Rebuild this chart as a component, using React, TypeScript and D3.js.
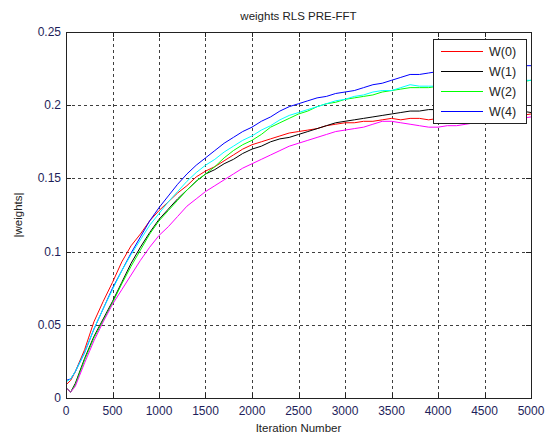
import React from "react";
import * as d3 from "d3";

const ITER: number[] = [0, 50].concat(d3.range(100, 5001, 100));

const W0 = [0.009, 0.012, 0.018, 0.033, 0.052, 0.066, 0.079, 0.093, 0.104, 0.112, 0.121, 0.128, 0.134, 0.140, 0.145, 0.151, 0.155, 0.158, 0.162, 0.166, 0.170, 0.173, 0.175, 0.177, 0.179, 0.181, 0.182, 0.183, 0.184, 0.186, 0.187, 0.188, 0.188, 0.189, 0.189, 0.190, 0.191, 0.190, 0.191, 0.191, 0.190, 0.191, 0.191, 0.192, 0.191, 0.192, 0.192, 0.193, 0.192, 0.193, 0.193, 0.194];
const W1 = [0.007, 0.004, 0.010, 0.027, 0.042, 0.054, 0.066, 0.079, 0.092, 0.103, 0.113, 0.122, 0.129, 0.136, 0.142, 0.148, 0.153, 0.156, 0.160, 0.163, 0.167, 0.170, 0.172, 0.175, 0.177, 0.178, 0.180, 0.182, 0.184, 0.186, 0.188, 0.189, 0.190, 0.191, 0.192, 0.193, 0.194, 0.195, 0.196, 0.196, 0.197, 0.197, 0.197, 0.196, 0.196, 0.196, 0.195, 0.195, 0.195, 0.195, 0.196, 0.195];
const W2 = [0.007, 0.004, 0.009, 0.026, 0.041, 0.053, 0.065, 0.078, 0.090, 0.101, 0.112, 0.121, 0.128, 0.135, 0.142, 0.148, 0.153, 0.158, 0.164, 0.169, 0.173, 0.176, 0.180, 0.185, 0.188, 0.191, 0.194, 0.196, 0.199, 0.201, 0.202, 0.204, 0.205, 0.206, 0.207, 0.209, 0.210, 0.211, 0.212, 0.212, 0.212, 0.213, 0.213, 0.213, 0.214, 0.214, 0.215, 0.215, 0.216, 0.216, 0.216, 0.217];
const W3 = [0.011, 0.013, 0.018, 0.031, 0.047, 0.061, 0.074, 0.087, 0.098, 0.108, 0.118, 0.126, 0.134, 0.141, 0.148, 0.154, 0.159, 0.163, 0.168, 0.172, 0.176, 0.179, 0.183, 0.186, 0.190, 0.193, 0.195, 0.197, 0.199, 0.201, 0.203, 0.204, 0.206, 0.207, 0.209, 0.210, 0.210, 0.212, 0.214, 0.213, 0.213, 0.213, 0.214, 0.214, 0.215, 0.215, 0.215, 0.216, 0.216, 0.216, 0.217, 0.217];
const W4 = [0.012, 0.013, 0.018, 0.031, 0.047, 0.061, 0.075, 0.087, 0.099, 0.110, 0.121, 0.130, 0.138, 0.146, 0.153, 0.159, 0.164, 0.169, 0.174, 0.178, 0.182, 0.185, 0.189, 0.192, 0.196, 0.199, 0.201, 0.203, 0.205, 0.206, 0.208, 0.209, 0.210, 0.212, 0.214, 0.215, 0.217, 0.219, 0.221, 0.221, 0.222, 0.223, 0.223, 0.224, 0.224, 0.225, 0.225, 0.225, 0.226, 0.226, 0.227, 0.227];
const W5 = [0.007, 0.004, 0.008, 0.024, 0.039, 0.052, 0.064, 0.074, 0.084, 0.094, 0.103, 0.111, 0.117, 0.124, 0.131, 0.136, 0.141, 0.145, 0.149, 0.153, 0.157, 0.160, 0.163, 0.166, 0.169, 0.172, 0.174, 0.176, 0.178, 0.180, 0.182, 0.183, 0.184, 0.185, 0.187, 0.189, 0.189, 0.188, 0.187, 0.186, 0.185, 0.185, 0.186, 0.186, 0.187, 0.188, 0.189, 0.190, 0.190, 0.191, 0.191, 0.192];

const SERIES = [
  { values: W0, color: "#ff0000" },
  { values: W1, color: "#000000" },
  { values: W2, color: "#00ff00" },
  { values: W4, color: "#0000ff" },
  { values: W3, color: "#00ffff" },
  { values: W5, color: "#ff00ff" },
];

const LEGEND_LABELS = ["W(0)", "W(1)", "W(2)", "W(4)"];
const LEGEND_COLORS = ["#ff0000", "#000000", "#00ff00", "#0000ff"];

const X_TICKS = [0, 500, 1000, 1500, 2000, 2500, 3000, 3500, 4000, 4500, 5000];
const Y_TICKS = [0, 0.05, 0.1, 0.15, 0.2, 0.25];
const Y_TICK_LABELS = ["0", "0.05", "0.1", "0.15", "0.2", "0.25"];

const TITLE = "weights RLS PRE-FFT";
const X_LABEL = "Iteration Number";
const Y_LABEL = "|weights|";

export default function App() {
  const W = 547, H = 439;
  const left = 66, right = 531, top = 32, bottom = 398;
  const x = d3.scaleLinear().domain([0, 5000]).range([left, right]);
  const y = d3.scaleLinear().domain([0, 0.25]).range([bottom, top]);
  const line = (vals: number[]) =>
    d3.line<number>().x((_, i) => x(ITER[i])).y((d) => y(d))(vals) || "";
  const font = "Arial, 'Liberation Sans', Helvetica, sans-serif";
  const tickColor = "#1e1e5a";
  const lg = { x: 433, y: 39, w: 93, h: 84 };

  return (
    <svg width={W} height={H} style={{ position: "absolute", left: 0, top: 0, background: "#fff" }} fontFamily={font}>
      <rect x={0} y={0} width={W} height={H} fill="#fff" />
      <rect x={left} y={top} width={right - left} height={bottom - top} fill="#fff" />
      {/* grid */}
      {X_TICKS.slice(1, -1).map((t) => (
        <line key={"gx" + t} x1={Math.round(x(t)) + 0.5} x2={Math.round(x(t)) + 0.5} y1={top} y2={bottom} stroke="#000" strokeWidth={1} strokeDasharray="3,3" opacity={0.75} />
      ))}
      {Y_TICKS.slice(1, -1).map((t) => (
        <line key={"gy" + t} y1={Math.round(y(t)) + 0.5} y2={Math.round(y(t)) + 0.5} x1={left} x2={right} stroke="#000" strokeWidth={1} strokeDasharray="3,3" opacity={0.75} />
      ))}
      {/* series */}
      {SERIES.map((s, i) => (
        <path key={i} d={line(s.values)} fill="none" stroke={s.color} strokeWidth={1} />
      ))}
      {/* box */}
      <rect x={left + 0.5} y={top + 0.5} width={right - left} height={bottom - top} fill="none" stroke="#222" strokeWidth={1} />
      {/* ticks */}
      {X_TICKS.map((t) => (
        <g key={"tx" + t}>
          <line x1={Math.round(x(t)) + 0.5} x2={Math.round(x(t)) + 0.5} y1={bottom} y2={bottom - 5} stroke="#222" />
          <line x1={Math.round(x(t)) + 0.5} x2={Math.round(x(t)) + 0.5} y1={top} y2={top + 5} stroke="#222" />
          <text x={x(t)} y={415} textAnchor="middle" fontSize={12} fill={tickColor}>{t}</text>
        </g>
      ))}
      {Y_TICKS.map((t, i) => (
        <g key={"ty" + t}>
          <line y1={Math.round(y(t)) + 0.5} y2={Math.round(y(t)) + 0.5} x1={left} x2={left + 5} stroke="#222" />
          <line y1={Math.round(y(t)) + 0.5} y2={Math.round(y(t)) + 0.5} x1={right} x2={right - 5} stroke="#222" />
          <text x={61} y={y(t) + 4} textAnchor="end" fontSize={12} fill={tickColor}>{Y_TICK_LABELS[i]}</text>
        </g>
      ))}
      {/* labels */}
      <text x={(left + right) / 2} y={20} textAnchor="middle" fontSize={11.5} fill="#222">{TITLE}</text>
      <text x={(left + right) / 2} y={432} textAnchor="middle" fontSize={11.5} fill="#222">{X_LABEL}</text>
      <text transform={`translate(22, ${(top + bottom) / 2}) rotate(-90)`} textAnchor="middle" fontSize={11.5} fill="#222">{Y_LABEL}</text>
      {/* legend */}
      <rect x={lg.x + 0.5} y={lg.y + 0.5} width={lg.w} height={lg.h} fill="#fff" stroke="#222" strokeWidth={1} />
      {LEGEND_LABELS.map((l, i) => {
        const yy = 51 + i * 20;
        return (
          <g key={l}>
            <rect x={441} y={yy} width={42} height={1} fill={LEGEND_COLORS[i]} shapeRendering="crispEdges" />
            <text x={489} y={yy + 4.5} fontSize={12.5} fill="#222">{l}</text>
          </g>
        );
      })}
    </svg>
  );
}
